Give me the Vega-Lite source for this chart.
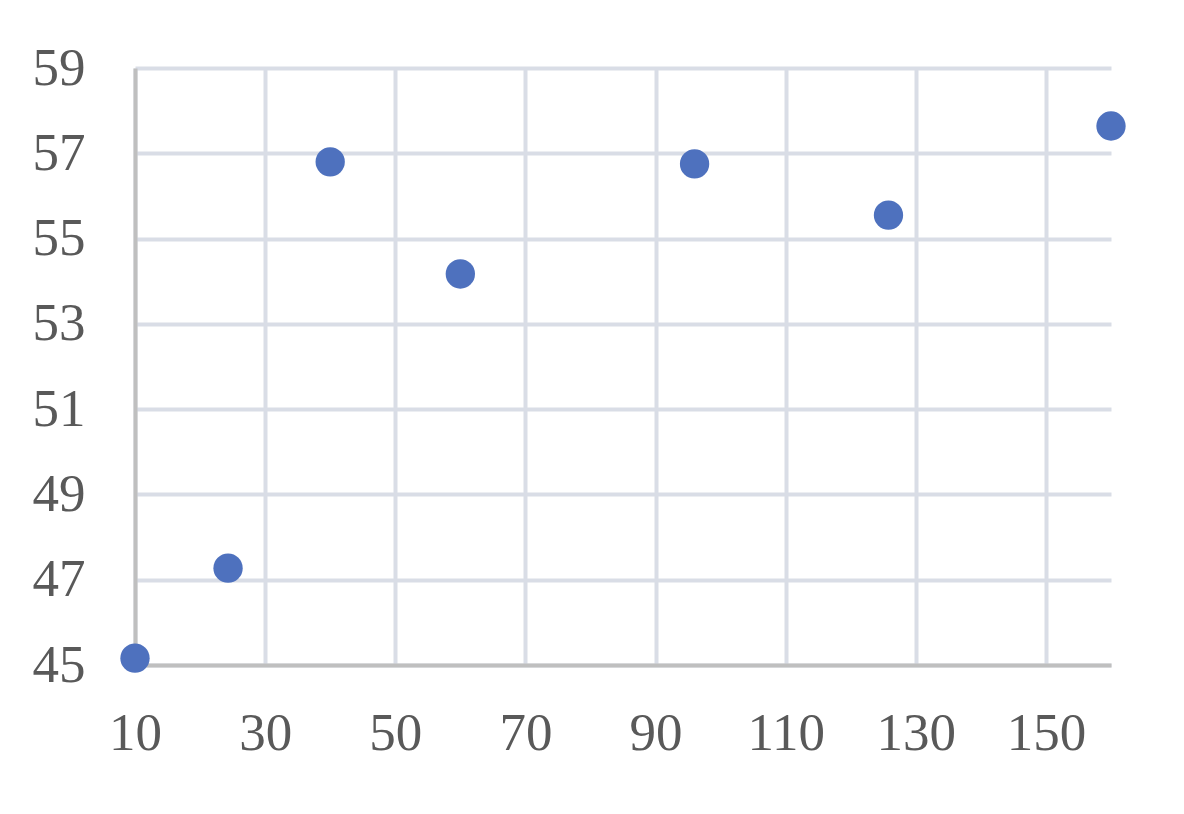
{
  "$schema": "https://vega.github.io/schema/vega-lite/v6.json",
  "autosize": "none",
  "width": 976,
  "height": 597,
  "padding": {"left": 135, "top": 68, "right": 73, "bottom": 149},
  "background": "white",
  "config": {"view": {"stroke": null}},
  "data": {
    "values": [
      {"x": 10, "y": 45.16},
      {"x": 24.3, "y": 47.27},
      {"x": 40, "y": 56.8},
      {"x": 60, "y": 54.17},
      {"x": 96, "y": 56.75},
      {"x": 125.8, "y": 55.55},
      {"x": 160, "y": 57.64}
    ]
  },
  "mark": {"type": "circle", "size": 860, "opacity": 1, "color": "#4E71BE"},
  "encoding": {
    "x": {
      "field": "x",
      "type": "quantitative",
      "scale": {"domain": [10, 160], "nice": false, "zero": false},
      "axis": {
        "title": null,
        "values": [10, 30, 50, 70, 90, 110, 130, 150],
        "ticks": false,
        "labelPadding": 42,
        "labelFont": "Liberation Serif",
        "labelFontSize": 53,
        "labelColor": "#595959",
        "labelFlush": false,
        "labelOverlap": false,
        "domainColor": "#bfbfbf",
        "domainWidth": 4,
        "gridColor": "#d9dde6",
        "gridWidth": 4
      }
    },
    "y": {
      "field": "y",
      "type": "quantitative",
      "scale": {"domain": [45, 59], "nice": false, "zero": false},
      "axis": {
        "title": null,
        "values": [45, 47, 49, 51, 53, 55, 57, 59],
        "ticks": false,
        "labelPadding": 50,
        "labelFont": "Liberation Serif",
        "labelFontSize": 53,
        "labelColor": "#595959",
        "labelFlush": false,
        "labelOverlap": false,
        "domainColor": "#bfbfbf",
        "domainWidth": 4,
        "gridColor": "#d9dde6",
        "gridWidth": 4
      }
    }
  }
}
